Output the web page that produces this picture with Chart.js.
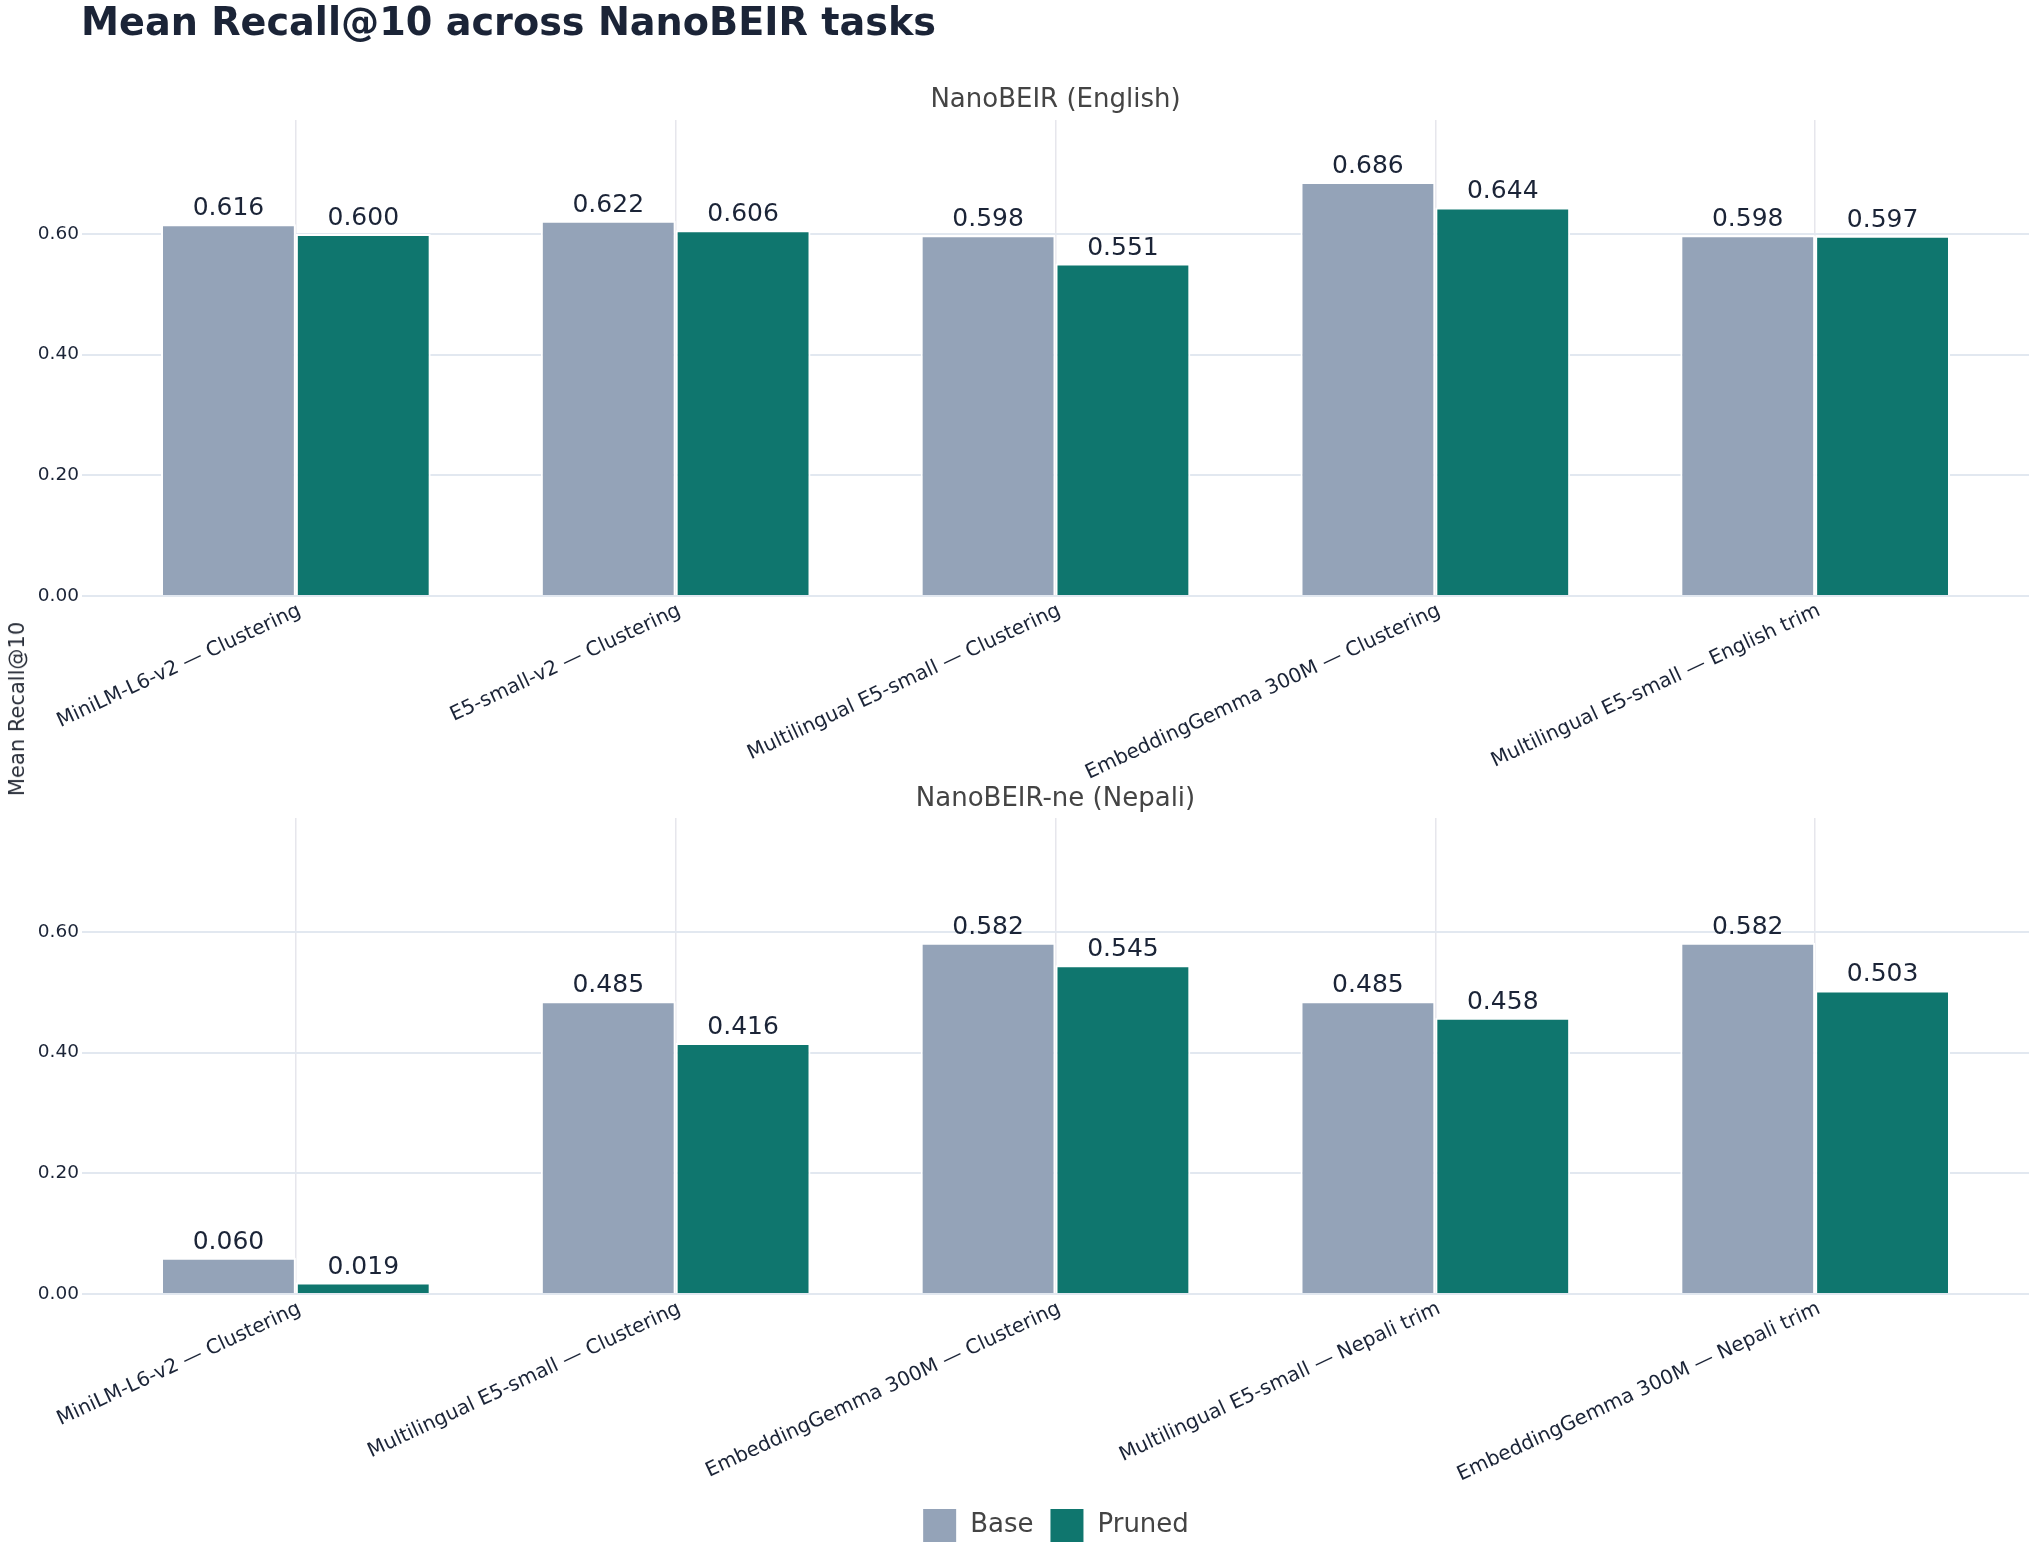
<!DOCTYPE html>
<html>
<head>
<meta charset="utf-8">
<title>Mean Recall@10 across NanoBEIR tasks</title>
<script src="https://cdn.jsdelivr.net/npm/chart.js@4.4.1/dist/chart.umd.min.js"></script>
<style>
  body { margin: 0; background: #FFFFFF; }
  .wrap { position: relative; width: 2040px; height: 1560px; font-family: "DejaVu Sans", sans-serif; }
  .main-title { position: absolute; left: 81px; top: 0; line-height: 44px; font-size: 38.2px; font-weight: bold; color: #1B2437; white-space: nowrap; }
  .y-title { position: absolute; left: 17px; top: 709px; transform: translate(-50%, -50%) rotate(-90deg); font-size: 21px; color: #2A2F3A; white-space: nowrap; }
  #topChart { position: absolute; left: 0; top: 0; }
  #bottomChart { position: absolute; left: 0; top: 780px; }
</style>
</head>
<body>
<div class="wrap">
  <canvas id="topChart" width="2040" height="820"></canvas>
  <canvas id="bottomChart" width="2040" height="780"></canvas>
  <div class="main-title">Mean Recall@10 across NanoBEIR tasks</div>
  <div class="y-title">Mean Recall@10</div>
</div>
<script>
const englishLabels = [
    "MiniLM-L6-v2 — Clustering",
    "E5-small-v2 — Clustering",
    "Multilingual E5-small — Clustering",
    "EmbeddingGemma 300M — Clustering",
    "Multilingual E5-small — English trim"
]
const englishBase = [0.616, 0.622, 0.598, 0.686, 0.598]
const englishPruned = [0.600, 0.606, 0.551, 0.644, 0.597]

const nepaliLabels = [
    "MiniLM-L6-v2 — Clustering",
    "Multilingual E5-small — Clustering",
    "EmbeddingGemma 300M — Clustering",
    "Multilingual E5-small — Nepali trim",
    "EmbeddingGemma 300M — Nepali trim"
]
const nepaliBase = [0.060, 0.485, 0.582, 0.485, 0.582]
const nepaliPruned = [0.019, 0.416, 0.545, 0.458, 0.503]

const yTicks = [0, 0.2, 0.4, 0.6]
const yMax = 0.789

const baseColor = '#94A3B8'
const prunedColor = '#0F766E'
const textColor = '#1B2437'
const fontFamily = "'DejaVu Sans', sans-serif"

// value on top of every bar
const valueLabelsPlugin = {
    id: 'valueLabels',
    afterDatasetsDraw(chart) {
        const ctx = chart.ctx
        ctx.save()
        ctx.font = `25px ${fontFamily}`
        ctx.fillStyle = textColor
        ctx.textAlign = 'center'
        ctx.textBaseline = 'bottom'
        chart.data.datasets.forEach((dataset, i) => {
            chart.getDatasetMeta(i).data.forEach((bar, j) => {
                ctx.fillText(dataset.data[j].y.toFixed(3), bar.x, bar.y - 3)
            })
        })
        ctx.restore()
    }
}

// y tick labels, placed with the y scale
const yTickLabelsPlugin = {
    id: 'yTickLabels',
    afterDraw(chart) {
        const ctx = chart.ctx
        const yScale = chart.scales.y
        ctx.save()
        ctx.font = `18.5px ${fontFamily}`
        ctx.fillStyle = textColor
        ctx.textAlign = 'right'
        ctx.textBaseline = 'middle'
        yTicks.forEach((v) => {
            ctx.fillText(v.toFixed(2), chart.chartArea.left - 3, yScale.getPixelForValue(v))
        })
        ctx.restore()
    }
}

const toPoints = (values) => values.map((v, i) => ({x: i, y: v}))

const getBarConfig = (title, labels, base, pruned, opts) => {
    return {
        type: 'bar',
        data: {
            datasets: [{
                label: 'Base',
                data: toPoints(base),
                backgroundColor: baseColor,
                borderColor: '#FFFFFF',
                borderWidth: 2,
                categoryPercentage: 0.71,
                barPercentage: 1
            }, {
                label: 'Pruned',
                data: toPoints(pruned),
                backgroundColor: prunedColor,
                borderColor: '#FFFFFF',
                borderWidth: 2,
                categoryPercentage: 0.71,
                barPercentage: 1
            }]
        },
        options: {
            responsive: false,
            animation: false,
            layout: {padding: opts.padding},
            scales: {
                x: {
                    type: 'linear',
                    min: -0.563,
                    max: 4.563,
                    offset: false,
                    afterBuildTicks: (axis) => {
                        axis.ticks = labels.map((label, i) => ({value: i}))
                    },
                    afterFit: (axis) => {
                        axis.height = opts.xAxisHeight
                    },
                    grid: {color: '#E6E6EC', lineWidth: 1.5, drawTicks: false, offset: false},
                    border: {display: false},
                    ticks: {
                        callback: (value) => labels[value],
                        autoSkip: false,
                        minRotation: 25,
                        maxRotation: 25,
                        padding: 3,
                        labelOffset: 4,
                        color: textColor,
                        font: {size: 20, family: fontFamily}
                    }
                },
                y: {
                    min: 0,
                    max: yMax,
                    afterBuildTicks: (axis) => {
                        axis.ticks = yTicks.map((v) => ({value: v}))
                    },
                    afterFit: (axis) => {
                        axis.width = 82
                    },
                    grid: {color: '#E2E8F0', lineWidth: 2, drawTicks: false},
                    border: {display: false},
                    ticks: {display: false}
                }
            },
            plugins: {
                title: {
                    display: true,
                    text: title,
                    color: '#444444',
                    fullSize: false,
                    padding: opts.titlePadding,
                    font: {size: 26, weight: 'normal', family: fontFamily, lineHeight: 1.15}
                },
                legend: {
                    display: opts.legend,
                    position: 'bottom',
                    fullSize: false,
                    labels: {
                        boxWidth: 35,
                        boxHeight: 35,
                        padding: 16,
                        color: '#444444',
                        font: {size: 26, family: fontFamily}
                    }
                },
                tooltip: {enabled: false}
            }
        },
        plugins: [valueLabelsPlugin, yTickLabelsPlugin]
    }
}

new Chart(document.getElementById('topChart'), getBarConfig('NanoBEIR (English)', englishLabels, englishBase, englishPruned, {
    padding: {top: 85, left: 0, right: 11, bottom: 0},
    titlePadding: {top: 0, bottom: 5},
    xAxisHeight: 224,
    legend: false
}))

new Chart(document.getElementById('bottomChart'), getBarConfig('NanoBEIR-ne (Nepali)', nepaliLabels, nepaliBase, nepaliPruned, {
    padding: {top: 0, left: 0, right: 11, bottom: 7},
    titlePadding: {top: 4, bottom: 4},
    xAxisHeight: 198,
    legend: true
}))
</script>
</body>
</html>
